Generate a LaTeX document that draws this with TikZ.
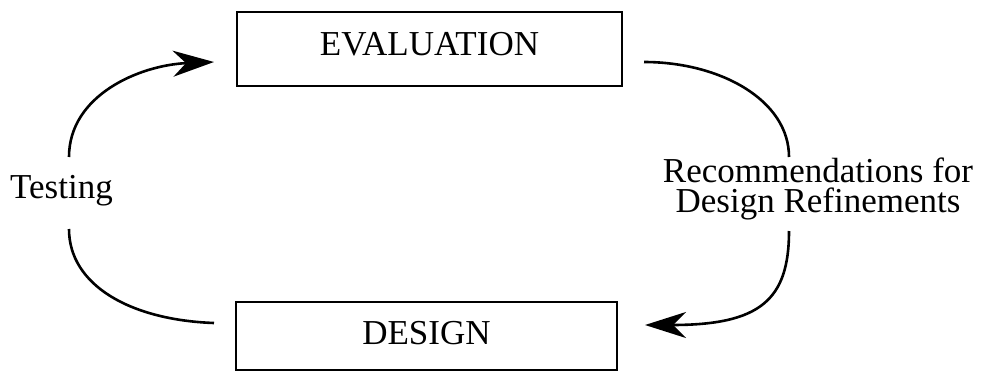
\documentclass[tikz,border=0pt]{standalone}
\usepackage{fontspec}
\setmainfont{Liberation Serif}
\usetikzlibrary{arrows.meta}
\begin{document}
\begin{tikzpicture}[x=1pt,y=-1pt,
  every node/.style={font=\fontsize{35}{30}\selectfont, inner sep=0pt},
  stagebox/.style={draw, line width=2.6pt, rectangle},
  flow/.style={line width=2.6pt},
  tip/.style={-{Stealth[length=41pt,width=26pt,inset=13pt]}}]
\useasboundingbox (0,0) rectangle (982,372);
\node[stagebox, minimum width=385pt, minimum height=74pt, text depth=10pt] (eval) at (429.5,49) {EVALUATION};
\node[stagebox, minimum width=381pt, minimum height=68pt, text depth=6pt] (design) at (426.5,336) {DESIGN};
\node[anchor=base] (testing) at (61.5,198) {Testing};
\node[anchor=base, align=center] (recs) at (818,212) {Recommendations for\\Design Refinements};
\coordinate (tA) at (69,157);
\coordinate (tB) at (69,229);
\coordinate (rA) at (789,157);
\coordinate (rB) at (789,231);
\coordinate (eIn) at (214,62);
\coordinate (eOut) at (644,62);
\coordinate (dIn) at (645,325);
\coordinate (dOut) at (214,323);
\draw[flow, tip] (tA) .. controls (69,95) and (140,65) .. (eIn);
\draw[flow] (tB) .. controls (69,285) and (130,320) .. (dOut);
\draw[flow] (eOut) .. controls (720,62) and (789,100) .. (rA);
\draw[flow, tip] (rB) .. controls (789,300) and (760,325) .. (dIn);
\end{tikzpicture}
\end{document}
